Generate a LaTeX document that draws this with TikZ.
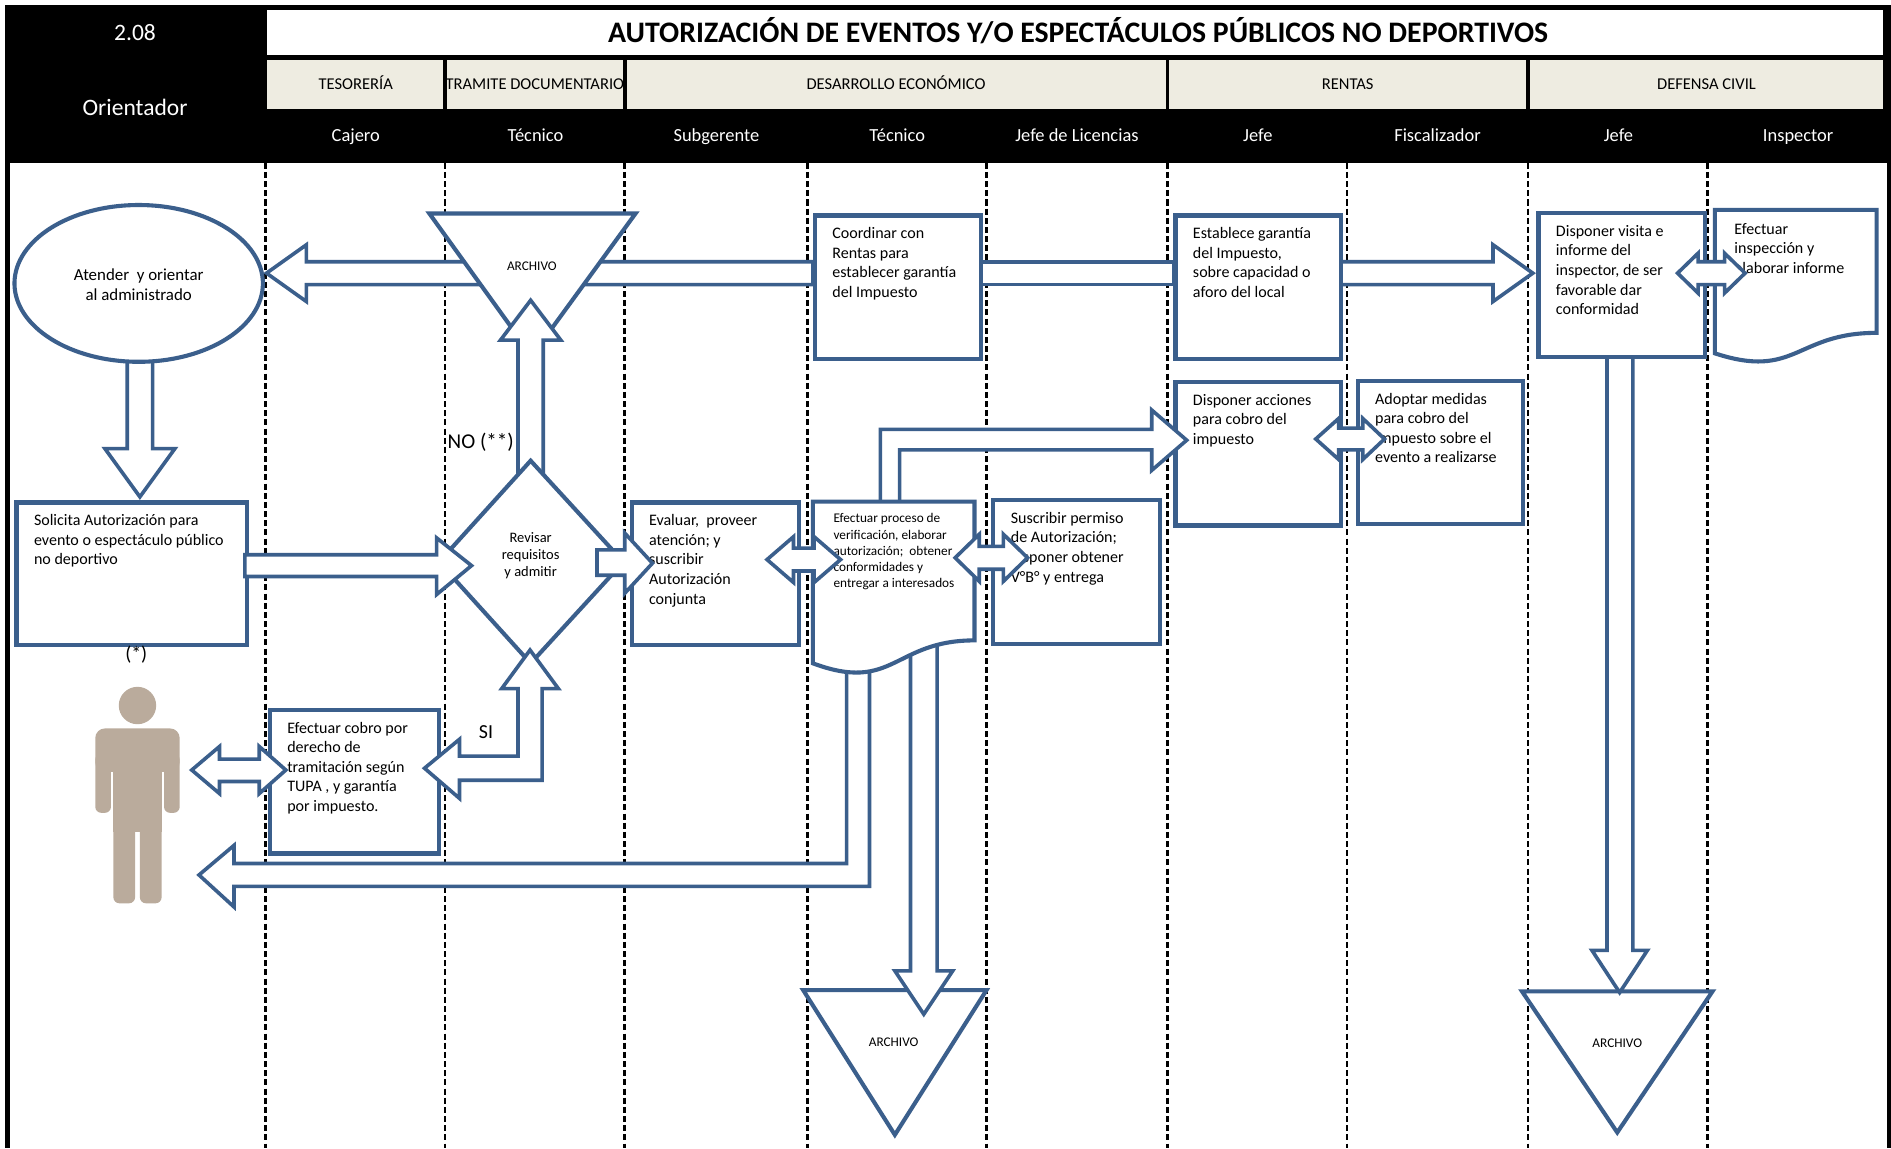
\documentclass[tikz,border=0pt]{standalone}
\usepackage{fontspec}
\setmainfont{Carlito}
\definecolor{bl}{HTML}{3B5F8C}
\definecolor{beige}{HTML}{EEECE1}
\definecolor{skin}{HTML}{BAAB9C}
\tikzset{
  shp/.style={draw=bl, line width=3.4pt, fill=white, line join=miter},
  barr/.style={draw=bl, line width=3pt, fill=white, line join=miter, miter limit=10},
  lane/.style={black, line width=2.2pt, dash pattern=on 5pt off 2.6pt},
  btxt/.style={anchor=north west, inner sep=0pt, align=left, font=\fontsize{13.3}{16.2}\selectfont},
  stxt/.style={anchor=north west, inner sep=0pt, align=left, font=\fontsize{11}{13.4}\selectfont},
  hdr/.style={white, inner sep=0pt, anchor=base, font=\fontsize{15.3}{18}\selectfont},
  dept/.style={black, inner sep=0pt, anchor=base, font=\fontsize{13.7}{16}\selectfont},
  arch/.style={inner sep=0pt, font=\fontsize{11}{13}\selectfont},
  lbl/.style={inner sep=0pt, font=\fontsize{16.5}{19}\selectfont},
}
\newcommand{\pbox}[6]{%
  \node[shp, anchor=north west, minimum width={(#4-#2)*1pt}, minimum height={(#5-#3)*1pt}, inner sep=0pt] (#1) at (#2,#3) {};
  \node[btxt] (#1-t) at (#2+16,#3+9.5) {\strut#6};}
\begin{document}
\begin{tikzpicture}[x=1pt,y=-1pt]
\useasboundingbox (0,0) rectangle (1568,952);
\fill[white] (0,0) rectangle (1568,952);
% header
\fill[black] (4,4) rectangle (1568,135);
\fill[black] (4,135) rectangle (8,952);
\fill[black] (1564.5,135) rectangle (1568,952);
\fill[white] (221,8) rectangle (1561,46);
\node[inner sep=0pt, anchor=base, font=\bfseries\fontsize{24.7}{28}\selectfont] (title) at (894,35) {AUTORIZACIÓN DE EVENTOS Y/O ESPECTÁCULOS PÚBLICOS NO DEPORTIVOS};
\fill[beige] (221,50) rectangle (367.5,90);
\fill[beige] (370.5,50) rectangle (516.5,90);
\fill[beige] (519.5,50) rectangle (966.5,90);
\fill[beige] (969.5,50) rectangle (1265.5,90);
\fill[beige] (1268.5,50) rectangle (1561,90);
\node[dept] (d1) at (295,74) {TESORERÍA};
\begin{scope}
\clip (370.5,50) rectangle (516.5,90);
\node[dept] (d2) at (443.5,74) {TRAMITE DOCUMENTARIO};
\end{scope}
\node[dept] (d3) at (743,74) {DESARROLLO ECONÓMICO};
\node[dept] (d4) at (1117.5,74) {RENTAS};
\node[dept] (d5) at (1415,74) {DEFENSA CIVIL};
\node[white, inner sep=0pt, anchor=base, font=\fontsize{19.5}{22}\selectfont] (num) at (112,33.5) {2.08};
\node[white, inner sep=0pt, anchor=base, font=\fontsize{19.5}{22}\selectfont] (orient) at (112,96) {Orientador};
\node[hdr] (r1) at (295,117) {Cajero};
\node[hdr] (r2) at (444,117) {Técnico};
\node[hdr] (r3) at (594,117) {Subgerente};
\node[hdr] (r4) at (744,117) {Técnico};
\node[hdr] (r5) at (893,117) {Jefe de Licencias};
\node[hdr] (r6) at (1043,117) {Jefe};
\node[hdr] (r7) at (1192,117) {Fiscalizador};
\node[hdr] (r8) at (1342,117) {Jefe};
\node[hdr] (r9) at (1491,117) {Inspector};
% lanes
\foreach \x in {220,369,518,669.5,818,968,1117,1267,1416}
  \draw[lane] (\x,135) -- (\x,952);
% top row arrows
\draw[barr] (674,217) -- (254,217) -- (254,203) -- (221,226.5) -- (254,250) -- (254,236) -- (674,236) -- cycle;
\draw[barr] (812,217) rectangle (973,236);
\draw[barr] (1110,217) -- (1238,217) -- (1238,203) -- (1271,226.5) -- (1238,250) -- (1238,236) -- (1110,236) -- cycle;
% top archive
\draw[shp] (356,177) -- (527,177) -- (441,295) -- cycle;
\node[arch] (arch1) at (441,221) {ARCHIVO};
% NO arrow
\draw[barr] (429.5,400) -- (429.5,282) -- (415,282) -- (440,249) -- (465,282) -- (450.5,282) -- (450.5,400) -- cycle;
% ellipse and down arrow
\draw[barr] (105.5,290) -- (105.5,372) -- (87,372) -- (116,412) -- (145,372) -- (126.5,372) -- (126.5,290) -- cycle;
\draw[shp] (115,235) ellipse [x radius=103, y radius=65];
\node[inner sep=0pt, align=center, font=\fontsize{14}{17}\selectfont] (atender) at (115,236) {Atender \ y orientar\\al administrado};
% diamond
\draw[shp] (440,382) -- (517,466) -- (440,550) -- (364,466) -- cycle;
\node[inner sep=0pt, align=center, font=\fontsize{12}{14}\selectfont] (revisar) at (440,461) {Revisar\\requisitos\\y admitir};
% boxes
\pbox{solicita}{12}{415}{203}{533}{Solicita Autorización para\\evento o espectáculo público\\no deportivo}
\pbox{cobro}{222}{587}{362}{706}{Efectuar cobro por\\derecho de\\tramitación según\\TUPA , y garantía\\por impuesto.}
\pbox{evaluar}{522}{415}{661}{533}{Evaluar, \ proveer\\atención; y\\suscribir\\Autorización\\conjunta}
\pbox{coord}{674}{177}{812}{296}{Coordinar con\\Rentas para\\establecer garantía\\del Impuesto}
\pbox{suscribir}{822}{413}{960}{532}{Suscribir permiso\\de Autorización;\\disponer obtener\\V°B° y entrega}
\pbox{establece}{973}{177}{1110}{296}{Establece garantía\\del Impuesto,\\sobre capacidad o\\aforo del local}
\pbox{acciones}{973}{315}{1110}{434}{Disponer acciones\\para cobro del\\impuesto}
\pbox{adoptar}{1124}{314}{1261}{433}{Adoptar medidas\\para cobro del\\impuesto sobre el\\evento a realizarse}
% right column
\draw[shp] (1262,822) -- (1420,822) -- (1341,939) -- cycle;
\node[arch] (arch3) at (1341,865) {ARCHIVO};
\draw[barr] (1332.5,290) -- (1332.5,788) -- (1320,788) -- (1343,823) -- (1366,788) -- (1354,788) -- (1354,290) -- cycle;
\pbox{visita}{1274}{175}{1412}{294}{Disponer visita e\\informe del\\inspector, de ser\\favorable dar\\conformidad}
\draw[shp] (1422,174) -- (1556,174) -- (1556,276) .. controls (1489,276) and (1489,315) .. (1422,293) -- cycle;
\node[btxt] (insp-t) at (1438,182.5) {\strut Efectuar\\inspección y\\elaborar informe};
% middle bottom
\draw[shp] (666,821) -- (818,821) -- (742,941) -- cycle;
\node[arch] (arch2) at (741,864) {ARCHIVO};
\draw[barr] (755,530) -- (755,805) -- (742,805) -- (766,841) -- (790,805) -- (777,805) -- (777,530) -- cycle;
\draw[barr] (702,540) -- (702,716) -- (194,716) -- (194,701) -- (165,725.5) -- (194,752) -- (194,735) -- (721,735) -- (721,540) -- cycle;
\draw[barr] (730,425) -- (730,356) -- (955,356) -- (955,340) -- (984,365) -- (955,390) -- (955,373) -- (746,373) -- (746,425) -- cycle;
\draw[shp] (674,416) -- (808,416) -- (808,531) .. controls (741,531) and (741,575) .. (674,550) -- cycle;
\node[stxt] (proc-t) at (691,424) {\strut Efectuar proceso de\\verificación, elaborar\\autorización; \ obtener\\conformidades y\\entregar a interesados};
% person
\fill[skin] (114,585) circle (15.5);
\fill[skin, rounded corners=8pt] (79,640) -- (79,604) -- (149,604) -- (149,640) -- cycle;
\fill[skin, rounded corners=5pt] (79,625) rectangle (92,674);
\fill[skin, rounded corners=5pt] (136,625) rectangle (149,674);
\fill[skin] (94,615) rectangle (134,690);
\fill[skin, rounded corners=5pt] (94,670) rectangle (112,749);
\fill[skin, rounded corners=5pt] (116,670) rectangle (134,749);
% connector arrows on top
\draw[barr] (203,460) -- (362,460) -- (362,446) -- (391,469) -- (362,493) -- (362,478) -- (203,478) -- cycle;
\draw[barr] (495,456) -- (518,456) -- (518,442) -- (541,467) -- (518,492) -- (518,477) -- (495,477) -- cycle;
\draw[barr] (439.5,539) -- (463,571) -- (449.5,571) -- (449.5,647) -- (381,647) -- (381,662) -- (352,637) -- (381,613) -- (381,627) -- (429.5,627) -- (429.5,571) -- (416,571) -- cycle;
\draw[barr] (159,638.5) -- (182,619) -- (182,629.5) -- (215,629.5) -- (215,619) -- (237,638.5) -- (215,658) -- (215,648) -- (182,648) -- (182,658) -- cycle;
\draw[barr] (636,464) -- (658,445) -- (658,454.5) -- (675,454.5) -- (675,445) -- (697,464) -- (675,483) -- (675,473.5) -- (658,473.5) -- (658,483) -- cycle;
\draw[barr] (792,462.5) -- (812,443) -- (812,453) -- (832,453) -- (832,443) -- (852,462.5) -- (832,482) -- (832,472) -- (812,472) -- (812,482) -- cycle;
\draw[barr] (1091,364) -- (1110,347) -- (1110,355) -- (1130,355) -- (1130,347) -- (1148,364) -- (1130,381) -- (1130,373) -- (1110,373) -- (1110,381) -- cycle;
\draw[barr] (1391,226.5) -- (1408,210) -- (1408,217) -- (1430,217) -- (1430,210) -- (1447,226.5) -- (1430,243) -- (1430,236) -- (1408,236) -- (1408,243) -- cycle;
% labels
\node[lbl, anchor=west, font=\fontsize{17.5}{20}\selectfont] (no) at (371,367) {NO (**)};
\node[lbl] (si) at (403,607) {SI};
\node[lbl] (star) at (113,543) {(*)};
\end{tikzpicture}
\end{document}
